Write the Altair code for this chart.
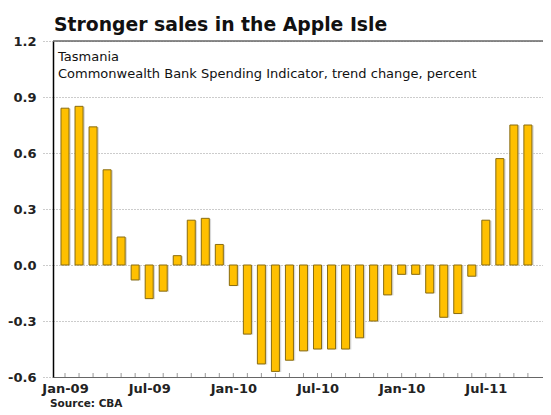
import altair as alt
import pandas as pd

months = ["Jan-09", "Feb-09", "Mar-09", "Apr-09", "May-09", "Jun-09", "Jul-09", "Aug-09",
          "Sep-09", "Oct-09", "Nov-09", "Dec-09", "Jan-10", "Feb-10", "Mar-10", "Apr-10",
          "May-10", "Jun-10", "Jul-10", "Aug-10", "Sep-10", "Oct-10", "Nov-10", "Dec-10",
          "Jan-11", "Feb-11", "Mar-11", "Apr-11", "May-11", "Jun-11", "Jul-11", "Aug-11",
          "Sep-11", "Oct-11"]
values = [0.84, 0.85, 0.74, 0.51, 0.15, -0.08, -0.18, -0.14, 0.05, 0.24, 0.25, 0.11,
          -0.11, -0.37, -0.53, -0.57, -0.51, -0.46, -0.45, -0.45, -0.45, -0.39, -0.30, -0.16,
          -0.05, -0.05, -0.15, -0.28, -0.26, -0.06, 0.24, 0.57, 0.75, 0.75]
tick_labels = ["Jan-09", "Jul-09", "Jan-10", "Jul-10", "Jan-10", "Jul-11"]
y_ticks = [-0.6, -0.3, 0.0, 0.3, 0.6, 0.9, 1.2]
title_text = "Stronger sales in the Apple Isle"
note_lines = ["Tasmania", "Commonwealth Bank Spending Indicator, trend change, percent"]
source_text = "Source: CBA"

FONT = "DejaVu Sans"
W, H = 490, 336

df = pd.DataFrame({"idx": list(range(len(values))), "month": months, "value": values})
ticks_df = pd.DataFrame({"idx": list(range(len(months)))})

label_map = "{" + ",".join(f"'{i*6}':'{t}'" for i, t in enumerate(tick_labels)) + "}"
label_expr = f"({label_map})[toString(datum.value)] || ''"

xscale = alt.Scale(domain=[-0.5, 33.72], nice=False, zero=False)
yscale = alt.Scale(domain=[-0.6, 1.2], nice=False)

base = alt.Chart(df)

shadow = base.mark_bar(size=10, color="#c8c8c8", opacity=0.7, xOffset=0.8, yOffset=0.5).encode(
    x=alt.X("idx:Q", scale=xscale,
            axis=alt.Axis(values=[i * 6 for i in range(len(tick_labels))], labelExpr=label_expr,
                          title=None, ticks=False, grid=False, domainColor="#666",
                          domainWidth=1, labelFont=FONT, labelFontSize=13,
                          labelFontWeight="bold", labelColor="#222", labelPadding=5)),
    y=alt.Y("value:Q", scale=yscale,
            axis=alt.Axis(values=y_ticks,
                          labelExpr="replace(format(datum.value, '.1f'), '\u2212', '-')",
                          title=None, grid=True, gridColor="#999", gridDash=[1, 2],
                          gridWidth=1, tickColor="#999", tickDash=[1, 2], tickSize=10,
                          domainColor="#000", domainWidth=1.5, labelFont=FONT,
                          labelFontSize=13, labelFontWeight="bold", labelColor="#222",
                          labelPadding=7)),
    y2=alt.datum(0),
)

bars = base.mark_bar(size=8, color="#FFC000", stroke="#8a6d10", strokeWidth=1).encode(
    x="idx:Q", y="value:Q", y2=alt.datum(0)
)

xticks = alt.Chart(ticks_df).mark_rule(color="#999", strokeWidth=1).encode(
    x=alt.X("idx:Q", scale=xscale),
    y=alt.datum(-0.6),
    y2=alt.value(H - 4),
)

top_line = alt.Chart(pd.DataFrame({"v": [1.2]})).mark_rule(color="#666", strokeWidth=1.5).encode(
    y=alt.Y("v:Q", scale=yscale)
)

note = alt.Chart(pd.DataFrame({"a": [0]})).mark_text(
    text=note_lines, align="left", baseline="alphabetic", font=FONT, fontSize=13,
    color="#111", lineHeight=17
).encode(x=alt.value(5), y=alt.value(20))

source = alt.Chart(pd.DataFrame({"a": [0]})).mark_text(
    text=source_text, align="left", baseline="alphabetic", font=FONT, fontSize=10.5,
    fontWeight="bold", color="#222"
).encode(x=alt.value(-3), y=alt.value(H + 29.5))

chart = alt.layer(shadow, bars, xticks, top_line, note, source).properties(
    width=W, height=H,
    title=alt.Title(title_text, anchor="start", frame="group", font=FONT, fontSize=18.8,
                    fontWeight="bold", color="#111", offset=-15, dx=1,
                    baseline="alphabetic"),
    autosize=alt.AutoSizeParams(type="none"),
    padding={"left": 45, "top": 33, "right": 0, "bottom": 30},
).configure_view(stroke=None)

chart.save("out.html", embed_options={"renderer": "svg", "actions": False})
